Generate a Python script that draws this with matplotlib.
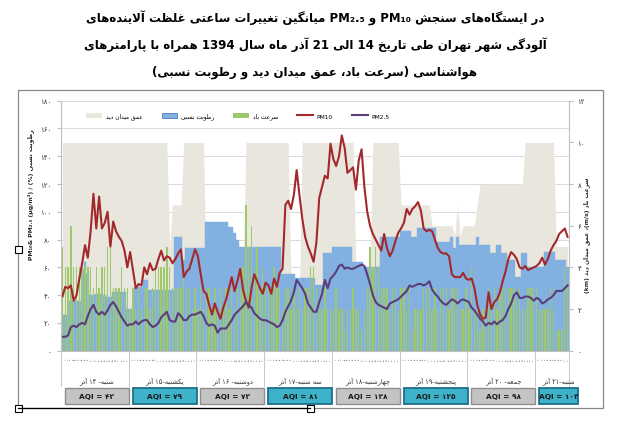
import re
import numpy as np
import matplotlib
matplotlib.use("Agg")
import matplotlib.pyplot as plt
from matplotlib.patches import Rectangle, Patch
from matplotlib.lines import Line2D
from matplotlib.transforms import blended_transform_factory

# ---------------------------------------------------------------- data
pm10 = [39, 46, 45, 47, 36, 40, 52, 63, 76, 67, 86, 113, 88, 111, 88, 92, 100, 75, 93, 86, 82, 79, 72, 60,
        71, 58, 45, 48, 47, 60, 55, 63, 58, 59, 66, 72, 65, 68, 67, 63, 66, 70, 73, 53, 57, 59, 66, 73,
        68, 55, 43, 41, 33, 26, 34, 28, 23, 31, 37, 45, 53, 43, 50, 59, 44, 36, 31, 45, 55, 50, 45, 41,
        49, 47, 41, 52, 46, 56, 59, 105, 108, 102, 112, 130, 112, 95, 82, 75, 70, 64, 78, 110, 118, 126, 124, 149,
        138, 133, 140, 155, 146, 128, 130, 132, 116, 137, 145, 118, 100, 90, 84, 80, 76, 72, 84, 74, 68, 72, 79, 85,
        88, 92, 102, 98, 102, 104, 107, 101, 88, 86, 87, 86, 80, 74, 71, 70, 70, 68, 55, 53, 53, 53, 56, 52,
        51, 52, 45, 33, 26, 23, 24, 42, 30, 35, 37, 42, 50, 57, 66, 71, 69, 66, 60, 59, 61, 58, 59, 60,
        61, 63, 67, 62, 66, 72, 76, 79, 84, 86, 88, 82]
pm25 = [10, 10, 11, 17, 18, 17, 19, 20, 19, 25, 30, 33, 28, 26, 28, 26, 29, 33, 35, 32, 28, 24, 21, 18,
        19, 19, 21, 19, 21, 22, 22, 19, 17, 18, 20, 24, 26, 28, 22, 21, 21, 27, 25, 22, 22, 25, 26, 26,
        27, 28, 25, 20, 18, 19, 18, 13, 16, 16, 16, 19, 22, 26, 28, 30, 32, 35, 33, 31, 27, 25, 23, 22,
        22, 21, 20, 19, 17, 18, 22, 28, 32, 36, 42, 51, 48, 45, 41, 34, 31, 28, 28, 35, 41, 51, 45, 52,
        54, 57, 61, 62, 59, 60, 59, 59, 60, 61, 62, 61, 55, 48, 40, 35, 33, 32, 31, 30, 34, 35, 36, 37,
        39, 41, 43, 47, 46, 47, 48, 48, 47, 48, 50, 44, 41, 39, 36, 34, 33, 35, 37, 36, 34, 36, 37, 36,
        35, 31, 29, 26, 23, 21, 18, 20, 19, 21, 19, 21, 22, 25, 30, 34, 40, 42, 38, 38, 39, 39, 38, 36,
        38, 37, 34, 35, 37, 38, 40, 43, 43, 43, 45, 47]
humidity = [26, 26, 26, 36, 36, 36, 36, 58, 64, 55, 40, 40, 41, 41, 40, 40, 39, 39, 42, 42, 42, 42, 42, 30,
            30, 30, 46, 46, 46, 51, 51, 44, 44, 44, 44, 44, 44, 44, 44, 44, 82, 82, 82, 65, 74, 74, 74, 74,
            74, 74, 74, 93, 93, 93, 93, 93, 93, 93, 93, 89, 89, 85, 80, 75, 75, 75, 75, 75, 75, 75, 75, 75,
            75, 75, 75, 75, 75, 75, 55, 55, 55, 55, 55, 52, 52, 52, 52, 52, 52, 52, 47, 47, 47, 70, 70, 70,
            75, 75, 75, 75, 75, 75, 75, 64, 64, 64, 64, 60, 60, 60, 60, 60, 60, 82, 82, 82, 82, 82, 82, 82,
            86, 86, 86, 86, 82, 82, 88, 88, 88, 88, 88, 88, 88, 78, 78, 78, 78, 78, 82, 74, 82, 76, 76, 76,
            76, 76, 76, 82, 76, 76, 76, 76, 70, 70, 76, 76, 70, 70, 65, 65, 65, 53, 53, 70, 70, 60, 60, 60,
            60, 60, 60, 71, 71, 71, 71, 65, 65, 65, 65, 60]
wind = [5, 4, 4, 6, 4, 4, 4, 4, 4, 4, 4, 3, 4, 3, 4, 4, 5, 5, 3, 3, 3, 4, 3, 3,
        2, 3, 2, 3, 2, 3, 3, 2, 3, 4, 4, 4, 4, 5, 4, 3, 3, 3, 3, 4, 3, 3, 2, 3,
        2, 3, 2, 3, 3, 2, 3, 2, 3, 2, 3, 2, 3, 2, 3, 3, 4, 7, 5, 6, 4, 5, 3, 4,
        3, 3, 3, 4, 3, 3, 2, 3, 3, 2, 3, 2, 3, 2, 3, 3, 4, 4, 3, 2, 2, 3, 2, 2,
        2, 3, 2, 2, 1, 2, 2, 3, 2, 2, 1, 2, 3, 5, 4, 5, 4, 3, 3, 3, 2, 3, 3, 2,
        3, 3, 2, 3, 1, 2, 2, 2, 3, 3, 3, 2, 3, 2, 3, 3, 3, 2, 3, 3, 3, 2, 2, 3,
        2, 4, 2, 2, 1, 2, 2, 3, 2, 3, 2, 3, 3, 3, 3, 3, 3, 2, 3, 2, 2, 3, 3, 3,
        3, 2, 2, 2, 2, 3, 2, 1, 1, 1, 4, 3]
visibility = [10, 10, 10, 10, 10, 10, 10, 10, 10, 10, 10, 10, 10, 10, 10, 10, 10, 10, 10, 10, 10, 10, 10, 10,
              10, 10, 10, 10, 10, 10, 10, 10, 10, 10, 10, 10, 10, 10, 5, 7, 7, 7, 7, 10, 10, 10, 10, 10,
              10, 10, 10, 3, 3, 3, 3, 3, 3, 3, 3, 3, 3, 3, 3, 3, 3, 10, 10, 10, 10, 10, 10, 10,
              10, 10, 10, 10, 10, 10, 10, 10, 10, 3, 3, 3, 3, 10, 10, 10, 10, 10, 10, 10, 10, 10, 10, 10,
              10, 10, 10, 10, 10, 10, 10, 10, 4, 4, 4, 4, 4, 4, 10, 10, 10, 10, 10, 10, 10, 10, 10, 10,
              7, 7, 7, 7, 7, 7, 7, 7, 7, 7, 7, 6, 6, 6, 6, 6, 6, 6, 6, 5.5, 7, 5.5, 6, 6,
              6, 6, 6, 7, 8, 8, 8, 8, 8, 8, 8, 8, 8, 8, 8, 8, 8, 8, 8, 8, 10, 10, 10, 10,
              10, 10, 10, 10, 10, 10, 10, 5, 5, 5, 5, 5]
day_names = ["شنبه- ۱۴ آذر", "یکشنبه-۱۵ آذر", "دوشنبه- ۱۶ آذر", "سه شنبه-۱۷ آذر",
             "چهارشنبه-۱۸ آذر", "پنجشنبه-۱۹ آذر", "جمعه- ۲۰ آذر", "شنبه-۲۱ آذر"]
aqi_values = ["۴۲", "۷۹", "۷۲", "۸۱", "۱۳۸", "۱۲۵", "۹۸", "۱۰۳"]
hour_labels = ["۰:۰۰", "۱:۰۰", "۲:۰۰", "۳:۰۰", "۴:۰۰", "۵:۰۰", "۶:۰۰", "۷:۰۰", "۸:۰۰", "۹:۰۰",
               "۱۰:۰۰", "۱۱:۰۰", "۱۲:۰۰", "۱۳:۰۰", "۱۴:۰۰", "۱۵:۰۰", "۱۶:۰۰", "۱۷:۰۰", "۱۸:۰۰",
               "۱۹:۰۰", "۲۰:۰۰", "۲۱:۰۰", "۲۲:۰۰", "۲۳:۰۰"]
left_ticks = [0, 20, 40, 60, 80, 100, 120, 140, 160, 180]
left_tick_labels = ["۰", "۲۰", "۴۰", "۶۰", "۸۰", "۱۰۰", "۱۲۰", "۱۴۰", "۱۶۰", "۱۸۰"]
right_ticks = [0, 2, 4, 6, 8, 10, 12]
right_tick_labels = ["۰", "۲", "۴", "۶", "۸", "۱۰", "۱۲"]
title_lines = ["در ایستگاه‌های سنجش PM₁₀ و PM₂.₅ میانگین تغییرات ساعتی غلظت آلاینده‌های",
               "آلودگی شهر تهران طی تاریخ 14 الی 21 آذر ماه سال 1394 همراه با پارامترهای",
               "هواشناسی (سرعت باد، عمق میدان دید و رطوبت نسبی)"]
legend_labels = ["عمق میدان دید", "رطوبت نسبی", "سرعت باد", "PM10", "PM2.5"]

# ---------------------------------------------------------------- Persian shaping (presentation forms + simple bidi)
_AR = {
    'ء': ('\uFE80', None, None, None), 'آ': ('\uFE81', '\uFE82', None, None),
    'أ': ('\uFE83', '\uFE84', None, None), 'ؤ': ('\uFE85', '\uFE86', None, None),
    'إ': ('\uFE87', '\uFE88', None, None), 'ئ': ('\uFE89', '\uFE8A', '\uFE8B', '\uFE8C'),
    'ا': ('\uFE8D', '\uFE8E', None, None), 'ب': ('\uFE8F', '\uFE90', '\uFE91', '\uFE92'),
    'ة': ('\uFE93', '\uFE94', None, None), 'ت': ('\uFE95', '\uFE96', '\uFE97', '\uFE98'),
    'ث': ('\uFE99', '\uFE9A', '\uFE9B', '\uFE9C'), 'ج': ('\uFE9D', '\uFE9E', '\uFE9F', '\uFEA0'),
    'ح': ('\uFEA1', '\uFEA2', '\uFEA3', '\uFEA4'), 'خ': ('\uFEA5', '\uFEA6', '\uFEA7', '\uFEA8'),
    'د': ('\uFEA9', '\uFEAA', None, None), 'ذ': ('\uFEAB', '\uFEAC', None, None),
    'ر': ('\uFEAD', '\uFEAE', None, None), 'ز': ('\uFEAF', '\uFEB0', None, None),
    'س': ('\uFEB1', '\uFEB2', '\uFEB3', '\uFEB4'), 'ش': ('\uFEB5', '\uFEB6', '\uFEB7', '\uFEB8'),
    'ص': ('\uFEB9', '\uFEBA', '\uFEBB', '\uFEBC'), 'ض': ('\uFEBD', '\uFEBE', '\uFEBF', '\uFEC0'),
    'ط': ('\uFEC1', '\uFEC2', '\uFEC3', '\uFEC4'), 'ظ': ('\uFEC5', '\uFEC6', '\uFEC7', '\uFEC8'),
    'ع': ('\uFEC9', '\uFECA', '\uFECB', '\uFECC'), 'غ': ('\uFECD', '\uFECE', '\uFECF', '\uFED0'),
    'ف': ('\uFED1', '\uFED2', '\uFED3', '\uFED4'), 'ق': ('\uFED5', '\uFED6', '\uFED7', '\uFED8'),
    'ك': ('\uFED9', '\uFEDA', '\uFEDB', '\uFEDC'), 'ل': ('\uFEDD', '\uFEDE', '\uFEDF', '\uFEE0'),
    'م': ('\uFEE1', '\uFEE2', '\uFEE3', '\uFEE4'), 'ن': ('\uFEE5', '\uFEE6', '\uFEE7', '\uFEE8'),
    'ه': ('\uFEE9', '\uFEEA', '\uFEEB', '\uFEEC'), 'و': ('\uFEED', '\uFEEE', None, None),
    'ى': ('\uFEEF', '\uFEF0', None, None), 'ي': ('\uFEF1', '\uFEF2', '\uFEF3', '\uFEF4'),
    'پ': ('\uFB56', '\uFB57', '\uFB58', '\uFB59'), 'چ': ('\uFB7A', '\uFB7B', '\uFB7C', '\uFB7D'),
    'ژ': ('\uFB8A', '\uFB8B', None, None), 'ک': ('\uFB8E', '\uFB8F', '\uFB90', '\uFB91'),
    'گ': ('\uFB92', '\uFB93', '\uFB94', '\uFB95'), 'ی': ('\uFBFC', '\uFBFD', '\uFBFE', '\uFBFF'),
}


def _dual(c):
    return c in _AR and _AR[c][2] is not None


def shape(s):
    out, k, n = [], 0, len(s)
    while k < n:
        c = s[k]
        if c not in _AR:
            if c != '\u200c':
                out.append(c)
            k += 1
            continue
        jp = k > 0 and _dual(s[k - 1])
        if c == 'ل' and k + 1 < n and s[k + 1] in ('ا', 'آ'):
            if s[k + 1] == 'ا':
                out.append('\uFEFC' if jp else '\uFEFB')
            else:
                out.append('\uFEF6' if jp else '\uFEF5')
            k += 2
            continue
        jn = _dual(c) and k + 1 < n and s[k + 1] in _AR
        iso, fin, ini, med = _AR[c]
        out.append(med if (jp and jn) else fin if jp else ini if jn else iso)
        k += 1
    return ''.join(out)


_LRUN = re.compile(r'[A-Za-z0-9\u06F0-\u06F9\u2080-\u2089]+(?:[./=:&][A-Za-z0-9\u06F0-\u06F9\u2080-\u2089]+)*')
_MIR = {'(': ')', ')': '('}


def rtl(s):
    s = shape(s)
    pieces, pos = [], 0
    for m in _LRUN.finditer(s):
        if m.start() > pos:
            pieces.append(('R', s[pos:m.start()]))
        pieces.append(('L', m.group()))
        pos = m.end()
    if pos < len(s):
        pieces.append(('R', s[pos:]))
    vis = []
    for kind, t in reversed(pieces):
        vis.append(''.join(_MIR.get(ch, ch) for ch in reversed(t)) if kind == 'R' else t)
    return ''.join(vis)


# ---------------------------------------------------------------- style
plt.rcParams['font.family'] = ['DejaVu Sans']
c_vis = '#e9e6de'
c_hum = '#82b1e1'
c_wind = '#9dc96c'
c_pm10 = '#a3282c'
c_pm25 = '#5b3d78'
c_grid = '#d9d9d9'
c_axis = '#bfbfbf'

W, H = 629, 427
fig = plt.figure(figsize=(W / 100, H / 100), dpi=100)
fig.patch.set_facecolor('white')

PL, PR, PT, PB = 61, 569, 101.7, 351.7
rect = [PL / W, 1 - PB / H, (PR - PL) / W, (PB - PT) / H]
n = len(pm10)
x = np.arange(n)
xlim = (-0.5, n - 0.5)


def bare(ax):
    ax.patch.set_visible(False)
    for s in ax.spines.values():
        s.set_visible(False)
    ax.tick_params(left=False, right=False, bottom=False, top=False,
                   labelleft=False, labelright=False, labelbottom=False)
    ax.set_xlim(*xlim)


axG = fig.add_axes(rect, zorder=0)
axV = fig.add_axes(rect, zorder=1)
axH = fig.add_axes(rect, zorder=2)
axW = fig.add_axes(rect, zorder=3)
axL = fig.add_axes(rect, zorder=4)
for a in (axG, axV, axH, axW, axL):
    bare(a)
axG.patch.set_visible(True)
axG.patch.set_facecolor('white')

# grid
axG.set_ylim(0, 180)
axG.set_yticks(left_ticks)
axG.grid(axis='y', color=c_grid, lw=0.7)
axG.set_axisbelow(True)

# visibility area (secondary scale)
axV.set_ylim(0, 12)
axV.fill_between(x, 0, visibility, color=c_vis, lw=0)

# humidity bars (primary scale)
axH.set_ylim(0, 180)
axH.bar(x, humidity, width=1.0, color=c_hum, edgecolor=c_hum, lw=0.3)

# wind bars (secondary scale) + right axis
axW.set_ylim(0, 12)
axW.bar(x, wind, width=0.5, color=c_wind, lw=0)
axW.yaxis.tick_right()
axW.set_yticks(right_ticks)
axW.set_yticklabels(right_tick_labels)
axW.tick_params(right=True, labelright=True, length=3, color=c_axis, labelsize=5,
                labelcolor='#333333', pad=3)
axW.spines['right'].set_visible(True)
axW.spines['right'].set_color(c_axis)

# pollutant lines (primary scale) + left / bottom axes
axL.set_ylim(0, 180)
axL.plot(x, pm10, color=c_pm10, lw=1.5, solid_joinstyle='round')
axL.plot(x, pm25, color=c_pm25, lw=1.5, solid_joinstyle='round')
axL.set_yticks(left_ticks)
axL.set_yticklabels(left_tick_labels)
axL.tick_params(axis='y', left=True, labelleft=True, length=3, color=c_axis, labelsize=5,
                labelcolor='#333333', pad=4)
axL.set_xticks(x)
axL.set_xticklabels([hour_labels[i % 24] for i in x], rotation=90, fontsize=1.75, color='#303030')
axL.tick_params(axis='x', bottom=True, labelbottom=True, length=0, pad=2.5)
for s in ('left', 'bottom'):
    axL.spines[s].set_visible(True)
    axL.spines[s].set_color(c_axis)
    axL.spines[s].set_linewidth(0.8)

handles = [Patch(facecolor=c_vis, edgecolor='none'),
           Patch(facecolor=c_hum, edgecolor='#4a7ebb', lw=0.6),
           Patch(facecolor=c_wind, edgecolor='none'),
           Line2D([], [], color=c_pm10, lw=1.5),
           Line2D([], [], color=c_pm25, lw=1.5)]
labels = [rtl(t) for t in legend_labels]
axL.legend(handles, labels, loc='center left', bbox_to_anchor=(0.035, 0.939), ncol=5,
           fontsize=4.2, frameon=True, facecolor='white', edgecolor='none', framealpha=1,
           borderpad=0.8, handlelength=2.7, handleheight=0.8, handletextpad=0.6,
           columnspacing=3.3)

# ---------------------------------------------------------------- overlay (frame, day labels, AQI boxes, titles)
axO = fig.add_axes([0, 0, 1, 1], zorder=10)
axO.set_xlim(0, W)
axO.set_ylim(H, 0)
axO.axis('off')
tr = blended_transform_factory(axL.transData, axO.transData)

starts = list(range(0, n, 24))
for d, st in enumerate(starts):
    en = min(st + 24, n)
    bx0 = st + 0.9
    bw = min(24, (en - st) + 3) - 1.3
    axO.plot([st - 0.5, st - 0.5], [352, 387], transform=tr, color=c_axis, lw=0.6, clip_on=False)
    axO.text(bx0 + bw / 2, 381, rtl(day_names[d]), transform=tr, ha='center', va='center',
             fontsize=4.8, color='#333333')
    if d % 2 == 0:
        fc, ec, lw = '#c4c4c4', '#8e8e8e', 1.0
    else:
        fc, ec, lw = '#3db2c9', '#1c6f8c', 1.3
    axO.add_patch(Rectangle((bx0, 388.5), bw, 16.5, transform=tr,
                            facecolor=fc, edgecolor=ec, lw=lw, clip_on=False))
    axO.text(bx0 + bw / 2, 397, 'AQI = ' + aqi_values[d], transform=tr,
             ha='center', va='center', fontsize=5.3, fontweight='bold', color='#1a1a1a')
axO.plot([n - 0.5, n - 0.5], [352, 387], transform=tr, color=c_axis, lw=0.6, clip_on=False)

# outer frame of the embedded picture and selection handles
axO.add_patch(Rectangle((18, 91), 585, 318, fill=False, edgecolor='#8a8a8a', lw=0.9))
axO.plot([18, 310], [409, 409], color='black', lw=0.9)
for hx, hy in [(18, 250), (18, 409), (310, 409)]:
    axO.add_patch(Rectangle((hx - 3.5, hy - 3.5), 7, 7, facecolor='white', edgecolor='black', lw=0.8))

# axis titles
axO.text(31, 195, 'PM₁₀& PM₂.₅ (µg/m³) / (%) ' + rtl('رطوبت نسبی'), rotation=90, ha='center',
         va='center', fontsize=4.4, fontweight='bold', color='#262626')
axO.text(587, 235, rtl('سرعت باد (m/s)، عمق میدان دید (km)'), rotation=90, ha='center',
         va='center', fontsize=4.3, fontweight='bold', color='#262626')

# chart title
for k, line in enumerate(title_lines):
    axO.text(315, 18 + 27 * k, rtl(line), ha='center', va='center', fontsize=8.5,
             fontweight='bold', color='black')

fig.savefig('out.png', dpi=100)
